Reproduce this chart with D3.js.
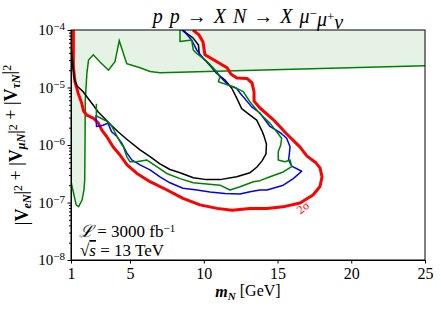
<!DOCTYPE html>
<html>
<head>
<meta charset="utf-8">
<script src="https://cdn.jsdelivr.net/npm/d3@7"></script>
<style>
  body { margin: 0; background: #fff; }
  svg { display: block; }
  text { font-family: 'Liberation Serif', 'DejaVu Serif', serif; fill: #000; }
  .tick text { font-size: 15px; }
</style>
</head>
<body>
<div id="chart"></div>
<script>
// Data: [m_N in GeV, |V|^2]
const xTicks = [1, 5, 10, 15, 20, 25];
const yTicks = [1e-8, 1e-7, 1e-6, 1e-5, 1e-4];
const yExps = ['−8', '−7', '−6', '−5', '−4'];

// green exclusion boundary (shaded above)
const excluded = [
  [1.0, 2.3e-7], [1.35, 9.1e-8], [1.52, 8.5e-8], [1.75, 1.1e-7], [1.88, 1.65e-7],
  [1.93, 2.5e-7], [1.95, 1.0e-6], [1.97, 6.1e-6], [2.08, 1.8e-5], [2.19, 3.0e-5],
  [2.51, 3.7e-5], [2.95, 2.8e-5], [3.54, 2.0e-5], [3.98, 2.8e-5], [4.27, 6.5e-5],
  [4.78, 2.6e-5], [5.68, 2.2e-5], [6.36, 1.9e-5], [7.03, 1.8e-5], [25, 2.4e-5]
];

// red 2 sigma contour
const red2s = [
  [9.27, 1e-4], [9.68, 8.2e-5], [9.95, 6.2e-5], [10.08, 3.7e-5], [10.69, 3.0e-5],
  [11.58, 2.2e-5], [11.85, 1.7e-5], [12.25, 1.46e-5], [12.93, 1.44e-5], [13.27, 1.2e-5],
  [13.41, 8.4e-6], [13.41, 5.8e-6], [13.81, 4.4e-6], [14.69, 2.8e-6], [15.58, 1.6e-6],
  [16.53, 9.2e-7], [17.0, 6.4e-7], [17.61, 4.9e-7], [17.88, 4.0e-7], [18.02, 2.8e-7],
  [17.88, 1.9e-7], [17.41, 1.35e-7], [16.53, 9.8e-8], [15.37, 8.4e-8], [14.29, 7.9e-8],
  [13.14, 7.9e-8], [11.92, 7.3e-8], [10.9, 7.9e-8], [9.75, 9.1e-8], [8.59, 1.18e-7],
  [7.51, 1.65e-7], [6.36, 2.3e-7], [5.47, 3.2e-7], [4.8, 4.5e-7], [4.32, 6.7e-7],
  [3.85, 9.3e-7], [3.44, 1.38e-6], [3.1, 1.8e-6], [2.86, 2.4e-6], [2.53, 2.9e-6],
  [2.08, 3.3e-6], [1.85, 3.9e-6], [1.73, 5.3e-6], [1.49, 7.9e-6], [1.27, 1.26e-5],
  [1.16, 2.3e-5], [1.16, 1e-4]
];

const blue = [
  [2.69, 3.3e-6], [2.73, 2.1e-6], [3.17, 2.2e-6], [3.51, 2.4e-6], [3.75, 1.7e-6],
  [4.08, 1.44e-6], [4.42, 1.1e-6], [4.78, 7.3e-7], [5.12, 5.5e-7], [5.68, 4.5e-7],
  [6.36, 3.7e-7], [7.03, 2.8e-7], [7.71, 2.2e-7], [8.59, 1.77e-7], [9.54, 1.65e-7],
  [10.42, 1.52e-7], [11.44, 1.44e-7], [12.46, 1.41e-7], [13.14, 1.54e-7], [13.81, 1.65e-7],
  [14.29, 1.65e-7], [15.39, 2.0e-7], [16.07, 2.6e-7], [16.64, 3.5e-7], [15.96, 4.3e-7],
  [15.75, 5.5e-7], [15.81, 7.3e-7], [15.85, 9.3e-7], [15.62, 1.31e-6], [15.24, 1.6e-6],
  [14.49, 2.1e-6], [13.81, 3.6e-6], [13.25, 4.6e-6], [12.46, 8.0e-6], [12.23, 9.7e-6],
  [11.66, 1.1e-5], [11.33, 1.35e-5], [10.88, 1.77e-5], [10.42, 2.5e-5], [9.97, 3.2e-5],
  [9.52, 4.5e-5], [9.18, 6.7e-5], [8.8, 8.7e-5], [8.51, 1e-4]
];

const green = [
  [2.72, 5.2e-6], [2.72, 3.2e-6], [2.83, 3.1e-6], [3.41, 2.6e-6], [3.73, 2.2e-6],
  [3.96, 1.7e-6], [4.19, 1.31e-6], [4.42, 1.04e-6], [4.55, 9.3e-7], [4.78, 6.3e-7],
  [5.0, 5.1e-7], [5.45, 5.1e-7], [6.13, 5.5e-7], [6.81, 4.2e-7], [7.49, 3.2e-7],
  [8.39, 2.6e-7], [9.29, 2.2e-7], [10.2, 2.1e-7], [11.1, 2.0e-7], [11.78, 1.65e-7],
  [12.46, 1.88e-7], [13.36, 2.3e-7], [13.81, 2.4e-7], [14.49, 2.8e-7], [15.39, 3.4e-7],
  [15.96, 4.2e-7], [15.85, 5.5e-7], [15.51, 5.1e-7], [15.05, 5.5e-7], [15.05, 7.6e-7],
  [15.22, 1.0e-6], [15.28, 1.31e-6], [14.49, 2.4e-6], [13.81, 3.5e-6], [13.14, 5.6e-6],
  [12.68, 8.5e-6], [12.0, 1.03e-5], [11.66, 1.1e-5], [10.99, 1.26e-5], [11.1, 1.54e-5],
  [10.88, 1.88e-5], [10.42, 2.5e-5], [9.97, 3.2e-5], [9.52, 3.9e-5], [9.29, 4.5e-5],
  [9.18, 6.7e-5], [8.39, 6.3e-5], [8.39, 1e-4]
];

const black = [
  [1.0, 5.5e-5], [1.14, 2.2e-5], [1.25, 1.35e-5], [1.41, 1.06e-5], [1.81, 8.5e-6],
  [2.15, 6.5e-6], [2.49, 5.0e-6], [2.83, 3.8e-6], [3.28, 2.9e-6], [3.73, 2.2e-6],
  [4.19, 1.7e-6], [4.76, 1.27e-6], [5.68, 8.2e-7], [6.36, 6.3e-7], [7.03, 4.7e-7],
  [7.71, 3.75e-7], [8.39, 3.3e-7], [9.29, 2.7e-7], [10.2, 2.5e-7], [11.1, 2.5e-7],
  [12.23, 2.8e-7], [13.14, 3.3e-7], [13.59, 4.1e-7], [13.95, 5.3e-7], [14.22, 7.0e-7],
  [14.25, 1.04e-6], [14.08, 1.44e-6], [13.93, 1.8e-6], [13.59, 2.7e-6], [13.14, 3.3e-6],
  [12.57, 4.3e-6], [12.23, 6.6e-6], [11.9, 9.7e-6], [11.44, 1.35e-5], [10.88, 1.77e-5],
  [10.2, 2.8e-5], [9.7, 3.7e-5], [9.64, 5.5e-5], [9.27, 7.3e-5], [8.8, 8.9e-5], [8.59, 1e-4]
];

const W = 441, H = 313;
const m = { left: 71, right: 16, top: 30, bottom: 53 };

const svg = d3.select('#chart').append('svg')
  .attr('width', W)
  .attr('height', H);

const x = d3.scaleLinear().domain([1, 25]).range([m.left, W - m.right]);
const y = d3.scaleLog().domain([1e-8, 1e-4]).range([H - m.bottom, m.top]);

svg.append('clipPath').attr('id', 'plot')
  .append('rect')
  .attr('x', x(1)).attr('y', y(1e-4))
  .attr('width', x(25) - x(1)).attr('height', y(1e-8) - y(1e-4));

const gP = svg.append('g').attr('clip-path', 'url(#plot)');
const line = d3.line().x(d => x(d[0])).y(d => y(d[1]));

// shaded excluded region
const area = excluded.concat([[25, 1e-4], [1, 1e-4]]);
gP.append('path')
  .attr('d', line(area) + 'Z')
  .attr('fill', 'green')
  .attr('fill-opacity', 0.1)
  .attr('stroke', 'none');
gP.append('path')
  .attr('d', line(excluded))
  .attr('fill', 'none')
  .attr('stroke', 'green')
  .attr('stroke-width', 1.5);

// contours
[[red2s, 'red', 3], [black, 'black', 1.5], [blue, 'blue', 1.5], [green, 'green', 1.5]].forEach(([d, c, w]) => {
  gP.append('path')
    .attr('d', line(d))
    .attr('fill', 'none')
    .attr('stroke', c)
    .attr('stroke-width', w)
    .attr('stroke-linejoin', 'round');
});

// 2 sigma label
svg.append('text')
  .attr('transform', `translate(${x(16.9)},${y(7.2e-8)}) rotate(-38)`)
  .attr('text-anchor', 'middle')
  .style('font-size', '12px')
  .style('fill', 'red')
  .text('2σ');

// axes
const gX = svg.append('g')
  .attr('transform', `translate(0,${y(1e-8)})`)
  .call(d3.axisBottom(x).tickValues(xTicks).tickSize(3.5).tickPadding(4).tickSizeOuter(0));
gX.selectAll('text').style('font-size', '16px');

const minor = [];
yTicks.slice(0, -1).forEach(t => { for (let k = 2; k < 10; k++) minor.push(t * k); });
svg.append('g')
  .attr('transform', `translate(${x(1)},0)`)
  .call(d3.axisLeft(y).tickValues(minor).tickSize(2).tickFormat('').tickSizeOuter(0));

const gY = svg.append('g')
  .attr('transform', `translate(${x(1)},0)`)
  .call(d3.axisLeft(y).tickValues(yTicks).tickSize(3.5).tickFormat('').tickSizeOuter(0));
gY.selectAll('.tick').each(function (d, i) {
  const t = d3.select(this).append('text')
    .attr('x', -6).attr('dy', '0.32em')
    .attr('text-anchor', 'end')
    .style('font-size', '15px');
  t.append('tspan').text('10');
  t.append('tspan').attr('dy', '-0.45em').style('font-size', '11px').text(yExps[i]);
});
svg.selectAll('.domain').attr('stroke', '#000');

// frame
svg.append('rect')
  .attr('x', x(1)).attr('y', y(1e-4))
  .attr('width', x(25) - x(1)).attr('height', y(1e-8) - y(1e-4))
  .attr('fill', 'none').attr('stroke', '#000').attr('stroke-width', 1);

// title
const title = svg.append('text')
  .attr('x', (x(1) + x(25)) / 2).attr('y', 23)
  .attr('text-anchor', 'middle')
  .style('font-size', '20px')
  .style('word-spacing', '2px');
title.append('tspan').style('font-style', 'italic').text('p p');
title.append('tspan').text(' → ');
title.append('tspan').style('font-style', 'italic').text('X N');
title.append('tspan').text(' → ');
title.append('tspan').style('font-style', 'italic').text('X μ');
title.append('tspan').attr('dy', '-0.4em').style('font-size', '13px').text('−');
title.append('tspan').attr('dy', '0.4em').style('font-style', 'italic').text('μ');
title.append('tspan').attr('dy', '-0.4em').style('font-size', '13px').text('+');
title.append('tspan').attr('dy', '0.4em').style('font-style', 'italic').text('ν');

// x label
const xl = svg.append('text')
  .attr('x', (x(1) + x(25)) / 2).attr('y', 297)
  .attr('text-anchor', 'middle')
  .style('font-size', '16px');
xl.append('tspan').style('font-weight', 'bold').style('font-style', 'italic').text('m');
xl.append('tspan').attr('dy', '0.3em').style('font-size', '11px').style('font-weight', 'bold').style('font-style', 'italic').text('N');
xl.append('tspan').attr('dy', '-0.3em').text(' [GeV]');

// y label
const yl = svg.append('text')
  .attr('transform', `translate(28,${(y(1e-4) + y(1e-8)) / 2}) rotate(-90)`)
  .attr('text-anchor', 'middle')
  .style('font-size', '18px');
['eN', 'μN', 'τN'].forEach((s, i) => {
  yl.append('tspan').text(i === 0 ? '|' : ' + |');
  yl.append('tspan').style('font-weight', 'bold').text('V');
  yl.append('tspan').attr('dy', '0.25em').style('font-size', '12px').style('font-style', 'italic').style('font-weight', 'bold').text(s);
  yl.append('tspan').attr('dy', '-0.25em').text('|');
  yl.append('tspan').attr('dy', '-0.35em').style('font-size', '12px').text('2');
  yl.append('tspan').attr('dy', '0.35em').text('');
});

// luminosity / energy notes
const n1 = svg.append('text').attr('x', 79).attr('y', 237).style('font-size', '17px');
n1.append('tspan').style('font-style', 'italic').text('ℒ');
n1.append('tspan').text(' = 3000 fb');
n1.append('tspan').attr('dy', '-0.45em').style('font-size', '11px').text('−1');
const n2 = svg.append('text').attr('x', 80).attr('y', 256).style('font-size', '17px');
n2.append('tspan').text('√');
n2.append('tspan').style('font-style', 'italic').style('text-decoration', 'overline').text('s');
n2.append('tspan').text(' = 13 TeV');
</script>
</body>
</html>
